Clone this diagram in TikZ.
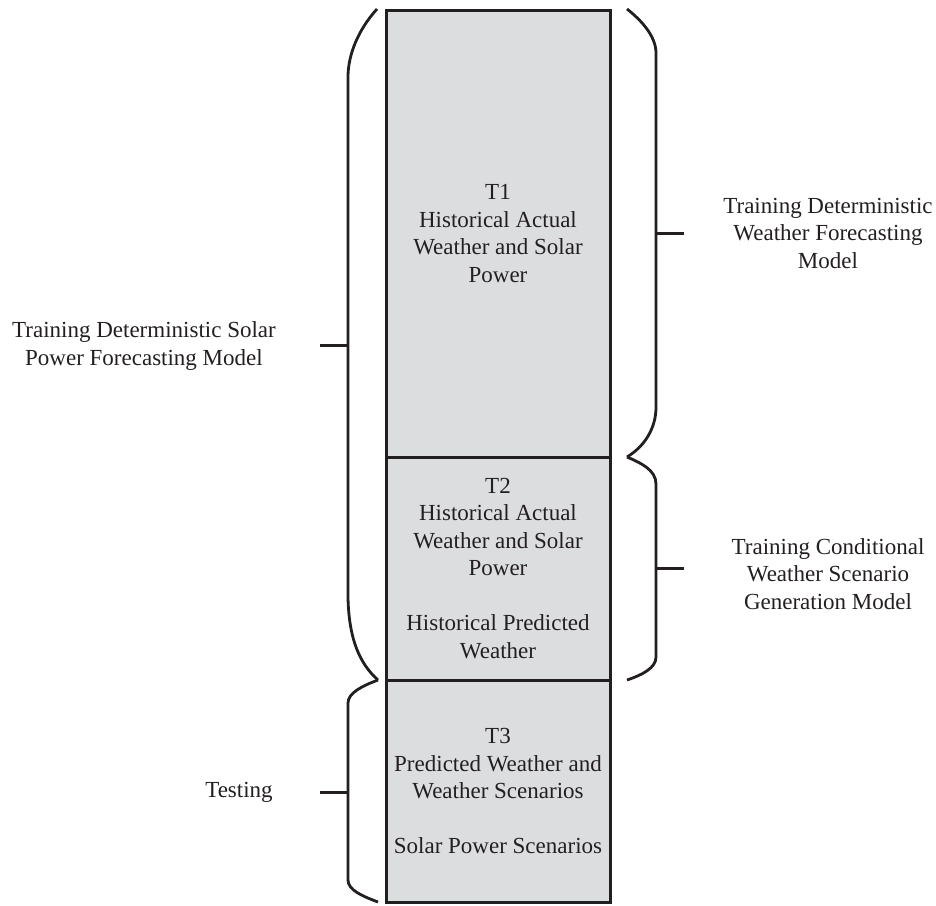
\documentclass[tikz,border=0pt]{standalone}
\usepackage{fontspec}
\setmainfont{Liberation Serif}
\definecolor{ink}{RGB}{35,31,32}
\definecolor{boxgray}{RGB}{220,221,223}
\begin{document}
\begin{tikzpicture}[x=1pt,y=-1pt,
  box/.style={draw=ink, fill=boxgray, line width=3pt, rectangle, inner sep=0pt, outer sep=0pt,
    text=ink, align=center, font=\fontsize{23}{27.5}\selectfont},
  lbl/.style={text=ink, align=center, inner sep=0pt, font=\fontsize{23}{27.5}\selectfont},
  brace/.style={draw=ink, line width=2.8pt},
  tick/.style={draw=ink, line width=3pt}]
\useasboundingbox (0,0) rectangle (936,905);
% boxes
\node[box, minimum width=224pt, minimum height=447pt] (t1) at (498,233.5)
  {T1\\Historical Actual\\Weather and Solar\\Power};
\node[box, minimum width=224pt, minimum height=223pt] (t2) at (498,568.5)
  {T2\\Historical Actual\\Weather and Solar\\Power\\[27.5pt]Historical Predicted\\Weather};
\node[box, minimum width=224pt, minimum height=222pt] (t3) at (498,791)
  {T3\\Predicted Weather and\\Weather Scenarios\\[27.5pt]Solar Power Scenarios};
% labels
\node[lbl] (l1) at (144,346) {Training Deterministic Solar\\Power Forecasting Model};
\node[lbl] (l2) at (239,792) {Testing};
\node[lbl] (r1) at (828,233) {Training Deterministic\\Weather Forecasting\\Model};
\node[lbl] (r2) at (828,574) {Training Conditional\\Weather Scenario\\Generation Model};
% brace coordinates
\coordinate (lb1t) at (377,9);
\coordinate (lb1m) at (348,345);
\coordinate (lb1x) at (320,345);
\coordinate (lb12) at (378,680);
\coordinate (lb2m) at (348,792);
\coordinate (lb2x) at (320,792);
\coordinate (lb2b) at (378,902);
\coordinate (rb1t) at (627,9);
\coordinate (rb1m) at (656,233);
\coordinate (rb1x) at (684,233);
\coordinate (rb12) at (627,457);
\coordinate (rb2m) at (656,568);
\coordinate (rb2x) at (684,568);
\coordinate (rb2b) at (627,680);
% left braces
\draw[brace] (lb1t) .. controls (358,30) and (348,55) .. (348,77) -- (348,598)
  .. controls (349,640) and (360,664) .. (lb12);
\draw[brace] (lb12) .. controls (362,686) and (348,693) .. (348,703) -- (348,880)
  .. controls (348,890) and (362,896) .. (lb2b);
% right braces
\draw[brace] (rb1t) .. controls (641,20) and (656,36) .. (656,53) -- (656,407)
  .. controls (656,428) and (645,446) .. (rb12);
\draw[brace] (rb12) .. controls (641,463) and (656,470) .. (656,484) -- (656,657)
  .. controls (656,668) and (642,675) .. (rb2b);
% ticks
\draw[tick] (lb1m) -- (lb1x);
\draw[tick] (lb2m) -- (lb2x);
\draw[tick] (rb1m) -- (rb1x);
\draw[tick] (rb2m) -- (rb2x);
\end{tikzpicture}
\end{document}
